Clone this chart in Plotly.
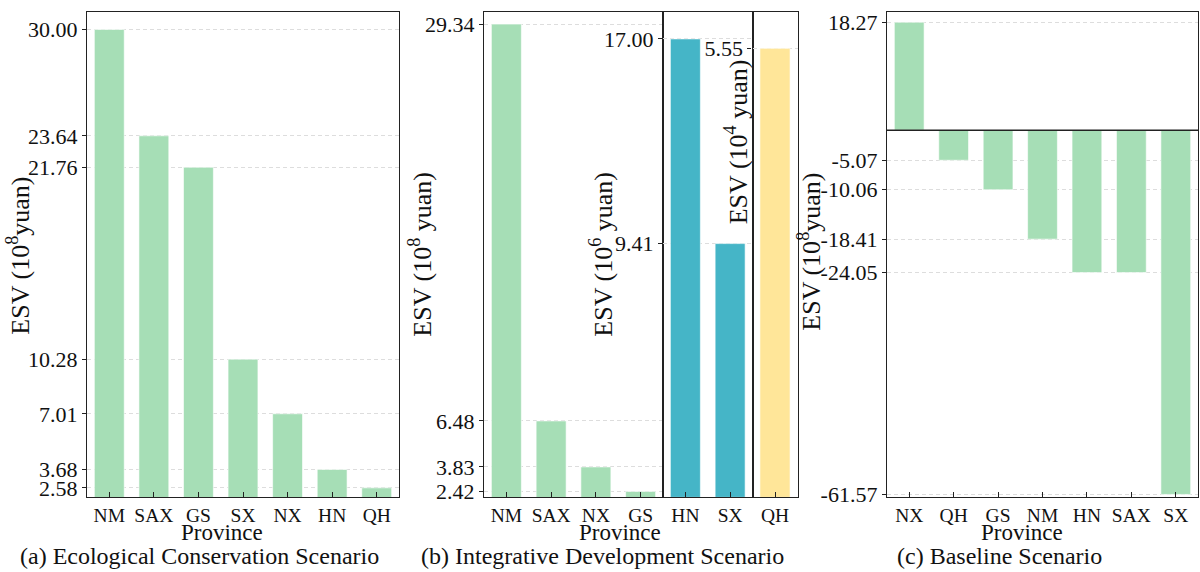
import plotly.graph_objects as go

# ---------------- data ----------------
a_provinces = ["NM", "SAX", "GS", "SX", "NX", "HN", "QH"]
a_values = [30.00, 23.64, 21.76, 10.28, 7.01, 3.68, 2.58]

b1_provinces = ["NM", "SAX", "NX", "GS"]
b1_values = [29.34, 6.48, 3.83, 2.42]

b2_provinces = ["HN", "SX"]
b2_values = [17.00, 9.41]

b3_provinces = ["QH"]
b3_values = [5.55]

c_provinces = ["NX", "QH", "GS", "NM", "HN", "SAX", "SX"]
c_values = [18.27, -5.07, -10.06, -18.41, -24.05, -24.05, -61.57]

# ---------------- style ----------------
W, H = 1200, 572          # reference picture size (positions measured in it)
FIG_H = 581               # figure height (picture is captured slightly squeezed)
GREEN = "#A6DEB6"
TEAL = "#45B5C7"
YELLOW = "#FFE699"
FONT = "Times New Roman, Liberation Serif, serif"
AXC = "#222222"
GRID = "#DDDDDD"
TXT = "#111111"


def px(x):
    return x / W


def py(y):
    return 1 - y / H


Y_TOP, Y_BOT = 10, 498
ydom = [py(Y_BOT), py(Y_TOP)]

panels = [
    # (cats, vals, color, xdomain px, yrange)
    (a_provinces, a_values, GREEN, (87, 399), [2.01, 31.05]),
    (b1_provinces, b1_values, GREEN, (484, 663), [2.076, 30.04]),
    (b2_provinces, b2_values, TEAL, (663, 752.5), [0, 18.0]),
    (b3_provinces, b3_values, YELLOW, (752.5, 797.5), [0, 6.0]),
    (c_provinces, c_values, GREEN, (887, 1198), [-62.07, 20.0]),
]

fig = go.Figure()
layout = dict(
    width=W, height=FIG_H,
    margin=dict(l=0, r=0, t=0, b=0),
    paper_bgcolor="white", plot_bgcolor="white",
    showlegend=False,
    font=dict(family=FONT, color=TXT),
)

for i, (cats, vals, color, (x0, x1), yr) in enumerate(panels):
    n = i + 1
    xa = "x" if n == 1 else f"x{n}"
    ya = "y" if n == 1 else f"y{n}"
    fig.add_trace(go.Bar(
        x=cats, y=vals, xaxis=xa, yaxis=ya,
        marker=dict(color=color, line=dict(color="white", width=0.6)),
        width=0.67, hoverinfo="skip",
    ))
    xkey = "xaxis" if n == 1 else f"xaxis{n}"
    ykey = "yaxis" if n == 1 else f"yaxis{n}"
    layout[xkey] = dict(
        domain=[px(x0), px(x1)], anchor=ya,
        range=[-0.5, len(cats) - 0.5],
        showline=True, linecolor=AXC, linewidth=1.3, mirror=True,
        ticks="inside", ticklen=5, tickwidth=1.2, tickcolor=AXC,
        showgrid=False, zeroline=False,
        tickfont=dict(family=FONT, size=19.5, color=TXT),
        fixedrange=True,
    )
    layout[ykey] = dict(
        domain=ydom, anchor=xa,
        range=yr,
        tickmode="array", tickvals=vals, ticktext=[f"{v:.2f}" for v in vals],
        showline=True, linecolor=AXC, linewidth=1.3, mirror=True,
        ticks="outside", ticklen=4, tickwidth=1.2, tickcolor=AXC,
        showgrid=True, gridcolor=GRID, griddash="4px,3px", gridwidth=0.8,
        zeroline=False,
        tickfont=dict(family=FONT, size=22, color=TXT),
        fixedrange=True,
    )

# zero reference line of panel (c)
fig.add_shape(type="line", xref="x5 domain", yref="y5", x0=0, x1=1, y0=0, y1=0,
              line=dict(color=AXC, width=1.5), layer="above")

ann = []


def label(x, y, text, size, angle=0):
    ann.append(dict(
        x=px(x), y=py(y), xref="paper", yref="paper",
        text=text, showarrow=False, textangle=angle,
        xanchor="center", yanchor="middle",
        font=dict(family=FONT, size=size, color=TXT),
    ))


# y-axis titles
label(19, 255, "ESV (10<sup>8</sup>yuan)", 26, -90)
label(421, 254, "ESV (10<sup>8</sup> yuan)", 26, -90)
label(602, 254, "ESV (10<sup>6</sup> yuan)", 26, -90)
label(736, 141, "ESV (10<sup>4</sup> yuan)", 26, -90)
label(810, 251, "ESV (10<sup>8</sup>yuan)", 26, -90)

# x-axis titles
label(222, 533, "Province", 23)
label(620, 533, "Province", 23)
label(1022, 533, "Province", 23)

# captions
label(199, 557, "(a) Ecological Conservation Scenario", 24)
label(602, 557, "(b) Integrative Development Scenario", 24)
label(999, 557, "(c) Baseline Scenario", 24)

layout["annotations"] = ann
fig.update_layout(**layout)

page_fix = (
    "var de=document.documentElement, bd=document.body;"
    "de.style.margin='0';de.style.padding='0';de.style.overflow='hidden';"
    "bd.style.margin='0';bd.style.padding='0';bd.style.overflow='hidden';"
)
fig.write_html("out.html", config={"displayModeBar": False}, post_script=page_fix)
